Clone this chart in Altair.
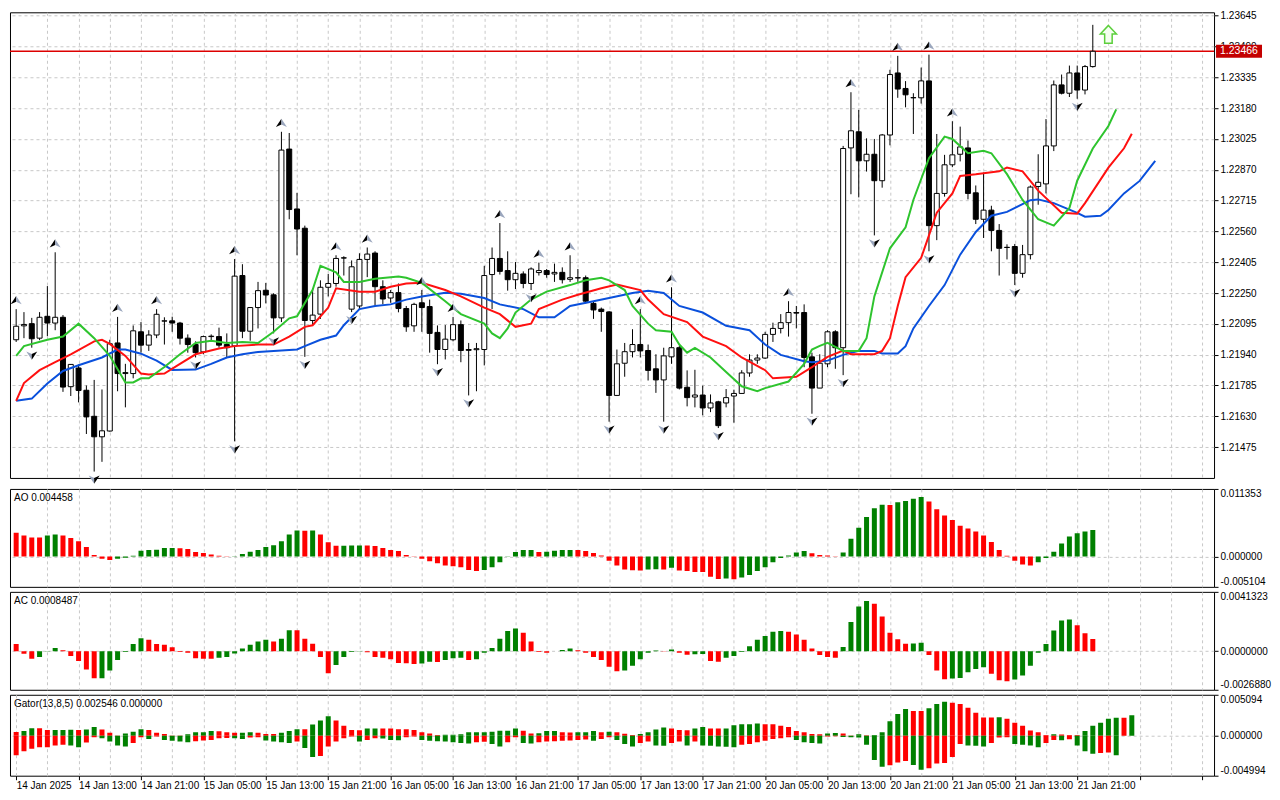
import json
import altair as alt
import pandas as pd

FONT = "Liberation Sans"
GRID = "#c8c8c8"
UP_GREEN = "#008000"
DOWN_RED = "#ff0000"

# ---------------- axis tick labels ----------------
price_ticks = [1.21475, 1.21630, 1.21785, 1.21940, 1.22095, 1.22250, 1.22405, 1.22560,
               1.22715, 1.22870, 1.23025, 1.23180, 1.23335, 1.23490, 1.23645]
x_labels = ["14 Jan 2025", "14 Jan 13:00", "14 Jan 21:00", "15 Jan 05:00", "15 Jan 13:00",
            "15 Jan 21:00", "16 Jan 05:00", "16 Jan 13:00", "16 Jan 21:00", "17 Jan 05:00",
            "17 Jan 13:00", "17 Jan 21:00", "20 Jan 05:00", "20 Jan 13:00", "20 Jan 21:00",
            "21 Jan 05:00", "21 Jan 13:00", "21 Jan 21:00"]
bars_per_label = 8
price_range = [1.21320, 1.23662]
ao_range = [-0.005104, 0.011353]
ac_range = [-0.0026880, 0.0041323]
gator_range = [-0.004994, 0.005094]
last_price = 1.23466
ao_title = "AO 0.004458"
ac_title = "AC 0.0008487"
gator_title = "Gator(13,8,5) 0.002546 0.000000"

# ---------------- H1 candles ----------------
opens = [1.22015, 1.22085, 1.22096, 1.22023, 1.22133, 1.22099, 1.22128, 1.21779, 1.21873, 1.21761,
         1.21630, 1.21527, 1.21556, 1.21999, 1.21845, 1.21845, 1.22055, 1.21988, 1.22039, 1.22109,
         1.22110, 1.22099, 1.22023, 1.21991, 1.21954, 1.22031, 1.22031, 1.21991, 1.21984, 1.22338,
         1.22058, 1.22177, 1.22264, 1.22241, 1.22125, 1.22974, 1.22673, 1.22576, 1.22112, 1.22144,
         1.22279, 1.22298, 1.22427, 1.22169, 1.22185, 1.22419, 1.22451, 1.22282, 1.22225, 1.22252,
         1.22172, 1.22085, 1.22201, 1.22182, 1.22052, 1.21966, 1.22015, 1.22091, 1.21966, 1.21965,
         1.21966, 1.22343, 1.22424, 1.22363, 1.22317, 1.22346, 1.22298, 1.22353, 1.22363, 1.22346,
         1.22354, 1.22319, 1.22327, 1.22327, 1.22198, 1.22169, 1.22155, 1.21735, 1.21897, 1.21955,
         1.21991, 1.21961, 1.21869, 1.21813, 1.21929, 1.21975, 1.21776, 1.21727, 1.21737, 1.21672,
         1.21703, 1.21697, 1.21732, 1.21745, 1.21848, 1.21913, 1.21923, 1.22042, 1.22072, 1.22101,
         1.22152, 1.22152, 1.21929, 1.21772, 1.21894, 1.22055, 1.21975, 1.22980, 1.23061, 1.22915,
         1.22948, 1.22815, 1.23045, 1.23357, 1.23279, 1.23232, 1.23232, 1.23317, 1.22589, 1.22751,
         1.22895, 1.22948, 1.22980, 1.22754, 1.22621, 1.22667, 1.22565, 1.22480, 1.22484, 1.22349,
         1.22443, 1.22786, 1.22799, 1.22990, 1.23297, 1.23255, 1.23357, 1.23271, 1.23389]
highs = [1.22169, 1.22154, 1.22125, 1.22154, 1.22285, 1.22455, 1.22139, 1.21892, 1.21891, 1.21785,
         1.21813, 1.21765, 1.22015, 1.22130, 1.21894, 1.22087, 1.22104, 1.22063, 1.22169, 1.22128,
         1.22131, 1.22105, 1.22042, 1.22007, 1.22036, 1.22042, 1.22076, 1.22047, 1.22421, 1.22395,
         1.22178, 1.22306, 1.22301, 1.22249, 1.23061, 1.23055, 1.22754, 1.22589, 1.22274, 1.22314,
         1.22346, 1.22440, 1.22435, 1.22414, 1.22450, 1.22479, 1.22460, 1.22314, 1.22265, 1.22298,
         1.22185, 1.22201, 1.22265, 1.22217, 1.22087, 1.22089, 1.22130, 1.22112, 1.21999, 1.21999,
         1.22387, 1.22479, 1.22602, 1.22460, 1.22406, 1.22359, 1.22379, 1.22403, 1.22371, 1.22398,
         1.22379, 1.22440, 1.22371, 1.22338, 1.22209, 1.22177, 1.22159, 1.21966, 1.21999, 1.22068,
         1.22169, 1.21991, 1.21942, 1.21975, 1.22279, 1.21984, 1.21861, 1.21864, 1.21784, 1.21740,
         1.21708, 1.21767, 1.21764, 1.21862, 1.21942, 1.21942, 1.22055, 1.22101, 1.22144, 1.22209,
         1.22185, 1.22193, 1.21950, 1.21942, 1.22063, 1.22063, 1.22990, 1.23260, 1.23171, 1.23028,
         1.23025, 1.23050, 1.23373, 1.23443, 1.23316, 1.23255, 1.23384, 1.23449, 1.23050, 1.22945,
         1.23114, 1.23087, 1.23017, 1.22791, 1.22856, 1.22689, 1.22597, 1.22495, 1.22497, 1.22492,
         1.22791, 1.22948, 1.23125, 1.23319, 1.23349, 1.23394, 1.23394, 1.23397, 1.23599]
lows = [1.22004, 1.22023, 1.21975, 1.22013, 1.22033, 1.22063, 1.21753, 1.21732, 1.21700, 1.21541,
        1.21352, 1.21401, 1.21553, 1.21756, 1.21675, 1.21821, 1.21950, 1.21959, 1.22023, 1.21991,
        1.22055, 1.21991, 1.21950, 1.21926, 1.21942, 1.22007, 1.21975, 1.21926, 1.21504, 1.22023,
        1.22010, 1.22072, 1.22198, 1.22047, 1.22104, 1.22621, 1.22440, 1.21929, 1.22088, 1.22120,
        1.22233, 1.22282, 1.22338, 1.22154, 1.22169, 1.22330, 1.22188, 1.22193, 1.22201, 1.22153,
        1.22055, 1.22055, 1.22055, 1.21950, 1.21892, 1.21916, 1.22007, 1.21902, 1.21735, 1.21756,
        1.21886, 1.22169, 1.22343, 1.22262, 1.22270, 1.22274, 1.22265, 1.22338, 1.22327, 1.22306,
        1.22298, 1.22306, 1.22306, 1.22198, 1.22120, 1.22055, 1.21603, 1.21732, 1.21829, 1.21926,
        1.21926, 1.21810, 1.21748, 1.21603, 1.21894, 1.21765, 1.21680, 1.21675, 1.21635, 1.21651,
        1.21571, 1.21675, 1.21598, 1.21745, 1.21829, 1.21894, 1.21918, 1.22004, 1.22047, 1.22031,
        1.22072, 1.21877, 1.21643, 1.21772, 1.21877, 1.21869, 1.21837, 1.22747, 1.22731, 1.22861,
        1.22540, 1.22780, 1.22993, 1.23232, 1.23184, 1.23050, 1.23203, 1.22460, 1.22516, 1.22735,
        1.22883, 1.22912, 1.22721, 1.22597, 1.22527, 1.22460, 1.22338, 1.22419, 1.22290, 1.22327,
        1.22419, 1.22694, 1.22751, 1.22964, 1.23249, 1.23236, 1.23227, 1.23249, 1.23384]
closes = [1.22083, 1.22092, 1.22020, 1.22128, 1.22099, 1.22128, 1.21777, 1.21891, 1.21760, 1.21627,
          1.21527, 1.21557, 1.21995, 1.21845, 1.21850, 1.22060, 1.21988, 1.22039, 1.22143, 1.22110,
          1.22099, 1.22023, 1.21991, 1.21950, 1.22031, 1.22033, 1.21988, 1.21975, 1.22335, 1.22058,
          1.22177, 1.22262, 1.22240, 1.22125, 1.22969, 1.22670, 1.22572, 1.22112, 1.22139, 1.22279,
          1.22298, 1.22424, 1.22426, 1.22382, 1.22419, 1.22446, 1.22282, 1.22220, 1.22252, 1.22172,
          1.22080, 1.22193, 1.22177, 1.22047, 1.21966, 1.22018, 1.22091, 1.21961, 1.21962, 1.21970,
          1.22338, 1.22424, 1.22359, 1.22317, 1.22349, 1.22298, 1.22371, 1.22363, 1.22343, 1.22354,
          1.22317, 1.22327, 1.22326, 1.22209, 1.22165, 1.22157, 1.21735, 1.21894, 1.21955, 1.21991,
          1.21959, 1.21861, 1.21813, 1.21934, 1.21975, 1.21772, 1.21724, 1.21737, 1.21672, 1.21697,
          1.21583, 1.21724, 1.21745, 1.21848, 1.21913, 1.21923, 1.22042, 1.22072, 1.22101, 1.22152,
          1.22149, 1.21926, 1.21772, 1.21897, 1.22055, 1.21975, 1.22977, 1.23066, 1.22915, 1.22948,
          1.22815, 1.23045, 1.23349, 1.23276, 1.23247, 1.23233, 1.23317, 1.22589, 1.22751, 1.22895,
          1.22945, 1.22985, 1.22751, 1.22621, 1.22667, 1.22565, 1.22475, 1.22479, 1.22349, 1.22443,
          1.22783, 1.22807, 1.22990, 1.23297, 1.23255, 1.23357, 1.23271, 1.23389, 1.23466]

fractal_up = [0, 5, 13, 18, 28, 34, 41, 45, 52, 56, 62, 67, 71, 80, 84, 99, 107, 113, 117, 120]
fractal_down = [2, 10, 23, 28, 33, 37, 43, 54, 58, 66, 76, 83, 90, 102, 106, 110, 117, 128, 136]
signal_bar = 140
signal_price = 1.23551

# ---------------- Alligator lines (bar index, price) ----------------
jaw_bar = [0, 2, 4, 6, 8, 11, 13, 14, 16, 18, 20, 23, 25, 27, 29, 31, 34, 36, 37, 39, 41, 42, 44, 46, 48,
           50, 52, 55, 57, 60, 62, 65, 67, 69, 71, 74, 76, 79, 81, 83, 85, 88, 91, 94, 96, 98, 101, 102,
           104, 106, 108, 110, 111, 113, 114, 115, 117, 119, 121, 123, 125, 127, 130, 131, 133, 136, 137,
           139, 140, 142, 144, 146]
jaw_val = [1.21708, 1.21719, 1.21795, 1.21858, 1.21887, 1.21926, 1.21966, 1.21966, 1.21945, 1.21910,
           1.21863, 1.21865, 1.21894, 1.21926, 1.21942, 1.21954, 1.21961, 1.21966, 1.21983, 1.22015,
           1.22036, 1.22088, 1.22169, 1.22185, 1.22193, 1.22217, 1.22233, 1.22252, 1.22246, 1.22225,
           1.22193, 1.22169, 1.22128, 1.22128, 1.22185, 1.22209, 1.22225, 1.22250, 1.22262, 1.22250,
           1.22185, 1.22152, 1.22085, 1.22063, 1.21991, 1.21939, 1.21907, 1.21902, 1.21910, 1.21939,
           1.21959, 1.21959, 1.21946, 1.21946, 1.21983, 1.22072, 1.22185, 1.22290, 1.22443, 1.22557,
           1.22639, 1.22658, 1.22717, 1.22721, 1.22702, 1.22653, 1.22634, 1.22639, 1.22668, 1.22751,
           1.22814, 1.22915]
teeth_bar = [0, 1, 3, 5, 7, 10, 11, 12, 14, 16, 17, 19, 21, 23, 26, 28, 31, 33, 35, 37, 38, 40, 41, 44,
             46, 48, 50, 52, 55, 57, 60, 62, 64, 66, 67, 70, 72, 75, 77, 80, 81, 83, 86, 88, 91, 93, 96,
             97, 100, 102, 104, 106, 107, 110, 111, 112, 113, 114, 116, 117, 118, 120, 121, 123, 126,
             127, 129, 131, 134, 136, 137, 140, 142, 143]
teeth_val = [1.21708, 1.21797, 1.21862, 1.21902, 1.21942, 1.22007, 1.22015, 1.21994, 1.21934, 1.21845,
             1.21840, 1.21845, 1.21894, 1.21942, 1.21971, 1.21983, 1.21991, 1.21991, 1.22031, 1.22080,
             1.22088, 1.22177, 1.22274, 1.22257, 1.22257, 1.22282, 1.22298, 1.22302, 1.22265, 1.22233,
             1.22177, 1.22144, 1.22080, 1.22096, 1.22169, 1.22217, 1.22241, 1.22274, 1.22293, 1.22265,
             1.22217, 1.22144, 1.22104, 1.22031, 1.21983, 1.21926, 1.21862, 1.21821, 1.21829, 1.21877,
             1.21929, 1.21961, 1.21942, 1.21942, 1.21959, 1.22023, 1.22185, 1.22330, 1.22427, 1.22540,
             1.22654, 1.22751, 1.22839, 1.22847, 1.22862, 1.22881, 1.22862, 1.22765, 1.22654, 1.22649,
             1.22702, 1.22881, 1.22978, 1.23051]
lips_bar = [0, 1, 4, 6, 8, 10, 12, 14, 15, 16, 17, 19, 21, 23, 25, 27, 29, 31, 33, 35, 36, 38, 39, 41,
            42, 44, 46, 49, 50, 52, 55, 57, 60, 61, 62, 63, 64, 66, 68, 71, 73, 75, 76, 78, 79, 81, 82,
            84, 85, 86, 87, 89, 91, 93, 95, 96, 99, 101, 102, 103, 104, 105, 106, 108, 109, 110, 112,
            114, 115, 117, 119, 120, 122, 124, 125, 127, 129, 131, 133, 135, 136, 138, 140, 141]
lips_val = [1.21934, 1.21983, 1.22015, 1.22031, 1.22096, 1.22023, 1.21934, 1.21800, 1.21800, 1.21821,
            1.21821, 1.21878, 1.21942, 1.21999, 1.22010, 1.21999, 1.22004, 1.21999, 1.22055, 1.22123,
            1.22133, 1.22266, 1.22387, 1.22354, 1.22306, 1.22306, 1.22322, 1.22333, 1.22327, 1.22301,
            1.22209, 1.22144, 1.22096, 1.22047, 1.22023, 1.22072, 1.22152, 1.22217, 1.22257, 1.22290,
            1.22314, 1.22327, 1.22314, 1.22265, 1.22185, 1.22096, 1.22063, 1.22055, 1.21991, 1.21950,
            1.21974, 1.21926, 1.21853, 1.21781, 1.21756, 1.21772, 1.21805, 1.21894, 1.21966, 1.21984,
            1.21999, 1.21979, 1.21959, 1.21959, 1.22023, 1.22233, 1.22475, 1.22581, 1.22718, 1.22928,
            1.23037, 1.23025, 1.22953, 1.22965, 1.22953, 1.22848, 1.22718, 1.22621, 1.22589, 1.22678,
            1.22815, 1.22977, 1.23090, 1.23174]

# ---------------- oscillators ----------------
ao_values = [0.00397, 0.00353, 0.00321, 0.00320, 0.00353, 0.00370, 0.00353, 0.00310, 0.00255, 0.00158,
             0.00027, -0.00038, -0.00060, -0.00038, -0.00022, 0.00011, 0.00098, 0.00109, 0.00112, 0.00141,
             0.00143, 0.00139, 0.00125, 0.00076, 0.00060, 0.00033, 0.00011, 0.00002, 0.00005, 0.00043,
             0.00081, 0.00109, 0.00158, 0.00190, 0.00255, 0.00370, 0.00435, 0.00433, 0.00436, 0.00370,
             0.00239, 0.00180, 0.00182, 0.00184, 0.00186, 0.00183, 0.00175, 0.00141, 0.00109, 0.00092,
             0.00027, 0.00002, -0.00038, -0.00082, -0.00114, -0.00152, -0.00163, -0.00179, -0.00228, -0.00245,
             -0.00228, -0.00179, -0.00098, -0.00005, 0.00076, 0.00109, 0.00110, 0.00076, 0.00078, 0.00098,
             0.00109, 0.00110, 0.00108, 0.00092, 0.00060, 0.00016, -0.00071, -0.00152,
             -0.00217, -0.00233, -0.00234, -0.00217, -0.00216, -0.00218, -0.00190, -0.00234, -0.00244, -0.00261,
             -0.00262, -0.00342, -0.00380, -0.00369, -0.00381, -0.00353, -0.00310, -0.00244, -0.00179, -0.00098,
             -0.00027, 0.00016, 0.00065, 0.00092, 0.00054, 0.00027, 0.00016, 0.00002, 0.00065, 0.00299,
             0.00483, 0.00662, 0.00809, 0.00869, 0.00866, 0.00912, 0.00934, 0.00972, 0.00999, 0.00923,
             0.00793, 0.00690, 0.00614, 0.00516, 0.00472, 0.00418, 0.00353, 0.00244, 0.00109, 0.00011,
             -0.00071, -0.00136, -0.00152, -0.00098, -0.00027, 0.00081, 0.00217, 0.00337, 0.00391, 0.00418,
             0.00446]
ac_values = [0.00050, -0.00018, -0.00052, -0.00041, 0.00002, 0.00023, 0.00007, -0.00034, -0.00068, -0.00128,
             -0.00189, -0.00188, -0.00135, -0.00061, -0.00005, 0.00050, 0.00090, 0.00079, 0.00050, 0.00045,
             0.00027, -0.00005, -0.00011, -0.00050, -0.00052, -0.00053, -0.00045, -0.00041, -0.00016, 0.00018,
             0.00045, 0.00068, 0.00079, 0.00068, 0.00086, 0.00146, 0.00145, 0.00086, 0.00052, -0.00041,
             -0.00153, -0.00097, -0.00041, -0.00005, 0.00002, -0.00007, -0.00041, -0.00045, -0.00056, -0.00083,
             -0.00084, -0.00090, -0.00086, -0.00074, -0.00075, -0.00061, -0.00050, -0.00045, -0.00061, -0.00056,
             -0.00011, 0.00023, 0.00086, 0.00140, 0.00158, 0.00128, 0.00068, -0.00005, -0.00011, 0.00000,
             0.00009, 0.00018, 0.00007, -0.00011, -0.00041, -0.00061, -0.00108, -0.00140,
             -0.00135, -0.00101, -0.00056, -0.00011, 0.00005, 0.00002, 0.00011, -0.00011, -0.00025, -0.00022,
             -0.00020, -0.00068, -0.00074, -0.00045, -0.00034, -0.00005, 0.00034, 0.00079, 0.00106, 0.00135,
             0.00140, 0.00135, 0.00117, 0.00079, 0.00018, -0.00027, -0.00040, -0.00045, 0.00029, 0.00203,
             0.00311, 0.00349, 0.00331, 0.00241, 0.00128, 0.00083, 0.00052, 0.00053, 0.00059, -0.00027,
             -0.00135, -0.00196, -0.00191, -0.00187, -0.00146, -0.00124, -0.00112, -0.00158, -0.00203, -0.00209,
             -0.00198, -0.00169, -0.00101, -0.00011, 0.00050, 0.00144, 0.00214, 0.00221, 0.00180, 0.00124,
             0.00085]
gator_upper = [0.00045, 0.00057, 0.00093, 0.00092, 0.00069, 0.00070, 0.00071, 0.00072, 0.00069, 0.00077,
               0.00109, 0.00077, 0.00036, 0.00003, 0.00028, 0.00049, 0.00081, 0.00069, 0.00036, 0.00020,
               0.00002, 0.00001, 0.00016, 0.00041, 0.00042, 0.00057, 0.00056, 0.00041, 0.00036, 0.00037,
               0.00041, 0.00037, 0.00020, 0.00019, 0.00037, 0.00057, 0.00081, 0.00080, 0.00138, 0.00190,
               0.00243, 0.00190, 0.00122, 0.00069, 0.00068, 0.00089, 0.00090, 0.00089, 0.00088, 0.00081,
               0.00080, 0.00069, 0.00041, 0.00028, 0.00008, 0.00010, 0.00012, 0.00016, 0.00041, 0.00042,
               0.00043, 0.00049, 0.00061, 0.00062, 0.00089, 0.00061, 0.00028, 0.00029, 0.00057, 0.00058,
               0.00041, 0.00040, 0.00041, 0.00042, 0.00057, 0.00041, 0.00049, 0.00041, 0.00024, 0.00008,
               0.00020, 0.00041, 0.00077, 0.00101, 0.00089, 0.00069, 0.00068, 0.00089, 0.00109, 0.00089,
               0.00088, 0.00090, 0.00130, 0.00142, 0.00143, 0.00150, 0.00142, 0.00141, 0.00122, 0.00109,
               0.00057, 0.00041, 0.00020, 0.00016, 0.00028, 0.00032, 0.00028, 0.00002, 0.00016, 0.00004,
               0.00008, 0.00041, 0.00178, 0.00271, 0.00332, 0.00308, 0.00307, 0.00340, 0.00393, 0.00421,
               0.00409, 0.00393, 0.00348, 0.00284, 0.00227, 0.00226, 0.00228, 0.00211, 0.00162, 0.00122,
               0.00065, 0.00041, 0.00008, 0.00016, 0.00015, 0.00008, 0.00007, 0.00057, 0.00122, 0.00162,
               0.00211, 0.00223, 0.00222, 0.00255]
gator_lower = [-0.00243, -0.00194, -0.00162, -0.00146, -0.00145, -0.00122, -0.00113, -0.00122, -0.00146, -0.00085,
               -0.00020, -0.00032, -0.00073, -0.00122, -0.00134, -0.00093, -0.00020, -0.00041, -0.00012, -0.00053,
               -0.00065, -0.00073, -0.00081, -0.00069, -0.00061, -0.00053, -0.00032, -0.00028, -0.00032, -0.00041,
               -0.00024, -0.00020, -0.00061, -0.00073, -0.00081, -0.00093, -0.00073, -0.00154, -0.00267, -0.00255,
               -0.00134, -0.00073, -0.00032, -0.00012, -0.00073, -0.00053, -0.00032, -0.00036, -0.00053, -0.00057,
               -0.00020, -0.00012, -0.00053, -0.00065, -0.00069, -0.00073, -0.00081, -0.00093, -0.00097, -0.00081,
               -0.00077, -0.00105, -0.00134, -0.00081, -0.00020, -0.00093, -0.00097, -0.00081, -0.00073, -0.00069,
               -0.00065, -0.00061, -0.00053, -0.00049, -0.00065, -0.00041, -0.00020, -0.00053, -0.00105, -0.00134,
               -0.00093, -0.00073, -0.00122, -0.00126, -0.00093, -0.00073, -0.00122, -0.00073, -0.00122, -0.00126,
               -0.00134, -0.00138, -0.00146, -0.00113, -0.00105, -0.00081, -0.00065, -0.00041, -0.00032, -0.00020,
               -0.00053, -0.00081, -0.00093, -0.00097, -0.00012, -0.00008, -0.00016, -0.00020, -0.00024, -0.00113,
               -0.00304, -0.00389, -0.00369, -0.00336, -0.00316, -0.00365, -0.00425, -0.00405, -0.00348, -0.00340,
               -0.00267, -0.00105, -0.00122, -0.00126, -0.00134, -0.00093, -0.00024, -0.00020, -0.00105, -0.00113,
               -0.00122, -0.00146, -0.00093, -0.00053, -0.00057, -0.00045, -0.00122, -0.00194, -0.00227, -0.00215,
               -0.00211, -0.00243]

# ---------------- layout ----------------
W = 1205
H_MAIN, H_AO, H_AC, H_GATOR = 466, 98, 98, 81
X_DOMAIN = [-0.15, 152.9]
n_slots = 153


def bar_colors(vals, use_abs=False):
    out = []
    prev_col = DOWN_RED
    for k, v in enumerate(vals):
        a = abs(v) if use_abs else v
        if k == 0:
            col = DOWN_RED
        else:
            p = abs(vals[k - 1]) if use_abs else vals[k - 1]
            col = UP_GREEN if a > p else (DOWN_RED if a < p else prev_col)
        out.append(col)
        prev_col = col
    return out


n = len(opens)
candles = pd.DataFrame({"i": list(range(n)), "open": opens, "high": highs, "low": lows, "close": closes})
jaw_df = pd.DataFrame({"i": jaw_bar, "p": jaw_val})
teeth_df = pd.DataFrame({"i": teeth_bar, "p": teeth_val})
lips_df = pd.DataFrame({"i": lips_bar, "p": lips_val})
up_df = candles[candles["i"].isin(fractal_up)]
dn_df = candles[candles["i"].isin(fractal_down)]
price_df = pd.DataFrame({"p": [last_price]})
sig_df = pd.DataFrame({"i": [signal_bar], "p": [signal_price]})
ao_df = pd.DataFrame({"i": list(range(len(ao_values))), "v": ao_values, "c": bar_colors(ao_values)})
ac_df = pd.DataFrame({"i": list(range(len(ac_values))), "v": ac_values, "c": bar_colors(ac_values)})
gu_df = pd.DataFrame({"i": list(range(len(gator_upper))), "v": gator_upper, "c": bar_colors(gator_upper)})
gl_df = pd.DataFrame({"i": list(range(len(gator_lower))), "v": gator_lower,
                      "c": bar_colors(gator_lower, use_abs=True)})

xs = alt.Scale(domain=X_DOMAIN, nice=False, zero=False)
grid_vals = list(range(4, n_slots, 4))
xa_hidden = alt.Axis(values=grid_vals, labels=False, ticks=False, domain=False, grid=True,
                     gridDash=[3, 3], gridColor=GRID, title=None)
label_expr = ("datum.value % {k} === 0 && datum.value / {k} < {m} ? {arr}[datum.value / {k}] : ''"
              .format(k=bars_per_label, m=len(x_labels), arr=json.dumps(x_labels)))
xa_bottom = alt.Axis(values=list(range(0, n_slots, 4)), grid=True, gridDash=[3, 3], gridColor=GRID,
                     domain=False, ticks=True, tickSize=4, tickColor="black",
                     tickOpacity={"condition": {"test": "datum.value % 8 === 0", "value": 1}, "value": 0},
                     labelExpr=label_expr, labelAlign="left", labelFlush=False, labelOverlap=False,
                     labelFont=FONT, labelFontSize=10, labelColor="black", labelPadding=1, title=None)


def X(axis):
    return alt.X("i:Q", scale=xs, axis=axis, title=None)


ys = alt.Scale(domain=price_range, nice=False, zero=False)
ya_main = alt.Axis(orient="right", values=price_ticks, format=".5f", grid=True, gridDash=[3, 3],
                   gridColor=GRID, tickSize=4, tickColor="black", domain=False, labelFont=FONT,
                   labelFontSize=10, labelColor="black", labelPadding=2, labelOverlap=False, title=None)


def Y(field):
    return alt.Y(f"{field}:Q", scale=ys, axis=ya_main, title=None)


UP_L = "M0,-0.75 L-1,0.75 L0,0.3 Z"
UP_R = "M0,-0.75 L1,0.75 L0,0.3 Z"
DN_L = "M0,0.75 L-1,-0.75 L0,-0.3 Z"
DN_R = "M0,0.75 L1,-0.75 L0,-0.3 Z"
BLOCK_UP = "M0,-1 L0.9,-0.05 L0.42,-0.05 L0.42,1 L-0.42,1 L-0.42,-0.05 L-0.9,-0.05 Z"
ARROW_LIGHT = "#9aa6bd"

price_rule = alt.Chart(price_df).mark_rule(color="#dd0000", strokeWidth=1.4).encode(y=Y("p"))
wicks = alt.Chart(candles).mark_rule(color="black", strokeWidth=1, clip=True).encode(
    x=X(xa_hidden), y=Y("low"), y2="high:Q")
bodies = alt.Chart(candles).mark_bar(size=5, stroke="black", strokeWidth=1, clip=True).encode(
    x=X(xa_hidden), y=Y("open"), y2="close:Q",
    fill=alt.condition("datum.close >= datum.open", alt.value("white"), alt.value("black")))


def line(df, color):
    return alt.Chart(df).mark_line(color=color, strokeWidth=2, clip=True).encode(x=X(xa_hidden), y=Y("p"))


def frac(df, field, shape, color, off):
    return alt.Chart(df).mark_point(shape=shape, filled=True, fill=color, strokeWidth=0, size=121,
                                    opacity=1, yOffset=off).encode(x=X(xa_hidden), y=Y(field))


signal = alt.Chart(sig_df).mark_point(shape=BLOCK_UP, filled=True, fill="#f4fff0", stroke="#5ccf3c",
                                      strokeWidth=1.5, size=320, opacity=1).encode(x=X(xa_hidden), y=Y("p"))
box = alt.Chart(price_df).mark_rule(color="#c40000", strokeWidth=13).encode(
    x=alt.value(W + 2), x2=alt.value(W + 48), y=Y("p"))
box_text = alt.Chart(price_df).mark_text(align="left", baseline="middle", color="white", font=FONT,
                                         fontSize=10.5).encode(x=alt.value(W + 6), y=Y("p"),
                                                               text=alt.Text("p:Q", format=".5f"))

main = alt.layer(
    price_rule, wicks, bodies,
    line(jaw_df, "#0a50dc"), line(teeth_df, "#ff1010"), line(lips_df, "#2ec42e"),
    frac(up_df, "high", UP_L, "black", -9), frac(up_df, "high", UP_R, ARROW_LIGHT, -9),
    frac(dn_df, "low", DN_L, ARROW_LIGHT, 8), frac(dn_df, "low", DN_R, "black", 8),
    signal, box, box_text,
).properties(width=W, height=H_MAIN)


def sub_axis(rng, dec):
    return alt.Axis(orient="right", values=[rng[0], 0, rng[1]],
                    labelExpr=f"(datum.value < 0 ? '-' : '') + format(abs(datum.value), '.{dec}f')",
                    grid=True, gridDash=[3, 3], gridColor=GRID,
                    gridOpacity={"condition": {"test": "datum.value === 0", "value": 1}, "value": 0},
                    tickSize=4, tickColor="black", domain=False, labelFlush=True, labelFont=FONT,
                    labelFontSize=10, labelColor="black", labelPadding=2, labelOverlap=False, title=None)


def hist(df, rng, dec, xaxis):
    return alt.Chart(df).mark_bar(size=5, clip=True).encode(
        x=X(xaxis),
        y=alt.Y("v:Q", scale=alt.Scale(domain=rng, nice=False, zero=False), axis=sub_axis(rng, dec), title=None),
        color=alt.Color("c:N", scale=None))


def title_layer(txt):
    return alt.Chart(pd.DataFrame({"t": [txt]})).mark_text(
        align="left", baseline="middle", font=FONT, fontSize=10, color="black").encode(
        x=alt.value(4), y=alt.value(9), text="t:N")


ao = alt.layer(hist(ao_df, ao_range, 6, xa_hidden), title_layer(ao_title)).properties(width=W, height=H_AO)
ac = alt.layer(hist(ac_df, ac_range, 7, xa_hidden), title_layer(ac_title)).properties(width=W, height=H_AC)
gator = alt.layer(hist(gu_df, gator_range, 6, xa_bottom), hist(gl_df, gator_range, 6, xa_bottom),
                  title_layer(gator_title)).properties(width=W, height=H_GATOR)

chart = alt.vconcat(main, ao, ac, gator, spacing=3).properties(
    padding={"left": 0, "top": 1, "right": 0, "bottom": 0}
).configure(background="white").configure_view(stroke="black", strokeWidth=1)

chart.save("out.html", embed_options={"renderer": "svg", "actions": False})
